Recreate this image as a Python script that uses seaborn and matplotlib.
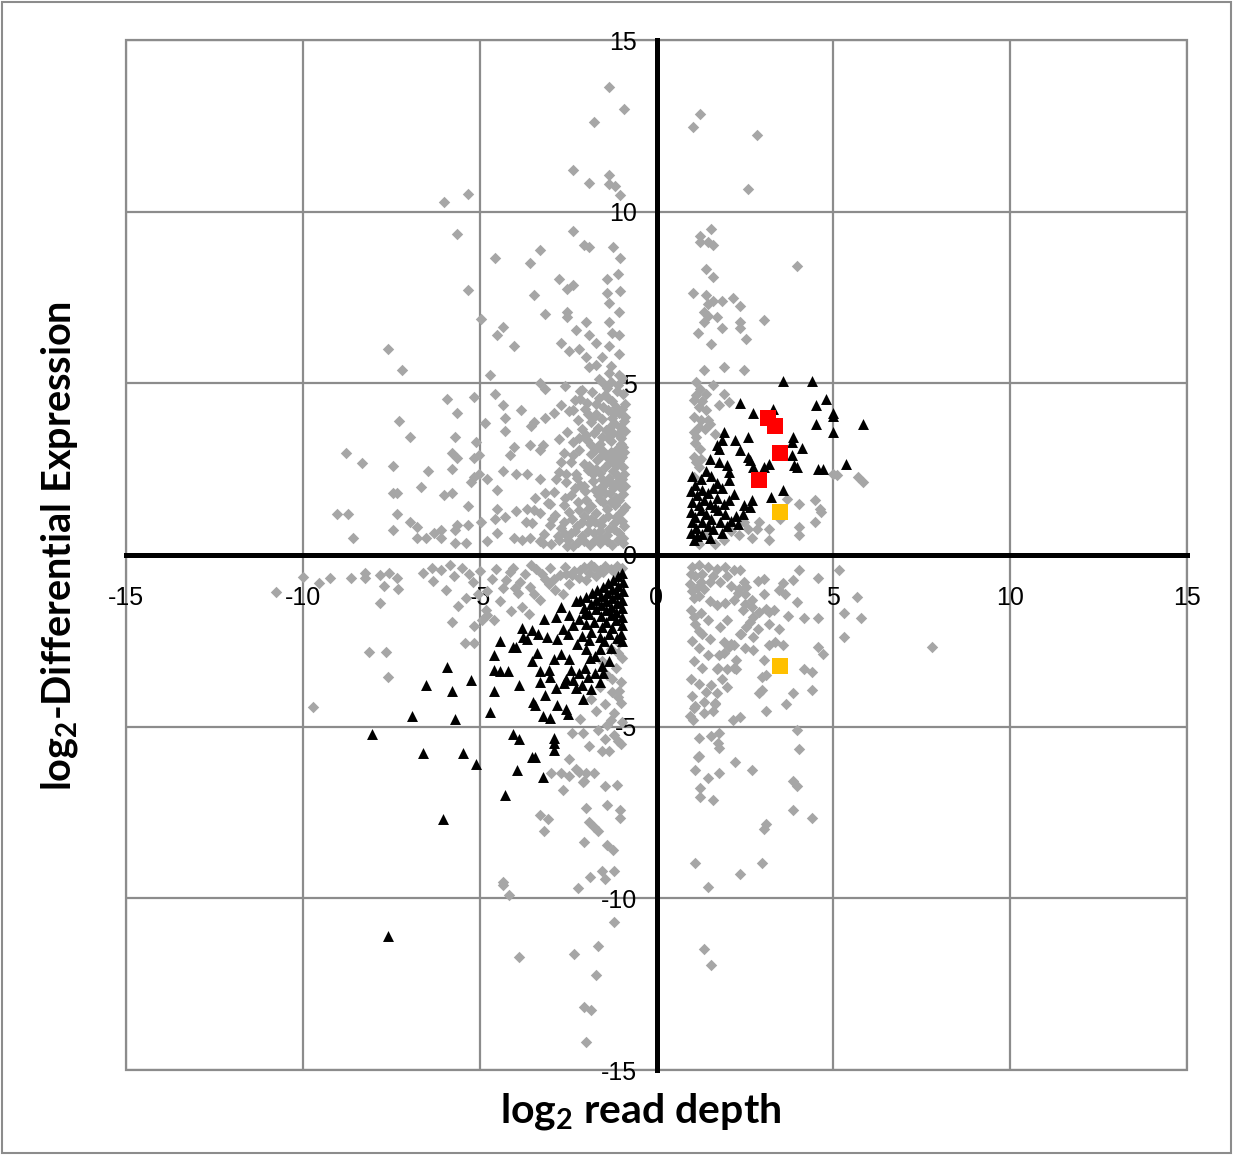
import numpy as np
import pandas as pd
import matplotlib
matplotlib.use("Agg")
import matplotlib.pyplot as plt
import seaborn as sns
from matplotlib.patches import Rectangle

## Points: (log2 read depth, log2 differential expression)
# grey diamonds, sparse part of upper-left quadrant
grey_ul_sparse = [
    (-1.33, 13.63), (-0.93, 13.0), (-1.78, 12.6), (-2.37, 11.2), (-1.92, 10.84), (-1.33, 11.07),
    (-1.33, 10.8), (-1.16, 10.75), (-1.02, 10.5), (-6.0, 10.28), (-5.32, 10.52), (-5.63, 9.35),
    (-2.37, 9.44), (-2.06, 9.03), (-1.92, 8.97), (-1.24, 8.97), (-1.02, 8.65), (-4.58, 8.65),
    (-3.28, 8.88), (-3.59, 8.5), (-2.77, 8.04), (-2.54, 7.75), (-2.37, 7.87), (-1.39, 8.04),
    (-1.1, 8.19), (-1.39, 7.63), (-1.02, 7.69), (-5.32, 7.72), (-3.45, 7.57), (-1.33, 7.34),
    (-3.14, 7.02), (-2.54, 7.08), (-2.54, 6.93), (-1.07, 7.08), (-4.95, 6.87),
    (-4.35, 6.64), (-4.5, 6.41), (-4.04, 6.09), (-2.29, 6.55), (-2.0, 6.79), (-1.92, 6.41),
    (-1.7, 6.18), (-1.33, 6.79), (-2.69, 6.18), (-2.46, 5.94), (-2.2, 6.0), (-2.0, 5.77),
    (-1.53, 5.77), (-1.07, 5.85), (-1.27, 6.47), (-1.07, 6.41), (-1.33, 6.09),
    (-7.58, 6.0), (-7.21, 5.39), (-4.72, 5.24), (-1.92, 5.48), (-1.7, 5.53), (-1.33, 5.3),
    (-1.07, 5.24), (-3.28, 5.0), (-3.14, 4.84), (-2.6, 4.92), (-2.15, 4.77), (-1.5, 5.0),
    (-5.91, 4.54), (-5.17, 4.6), (-4.58, 4.69), (-5.63, 4.14), (-4.35, 4.37), (-3.82, 4.22),
    (-4.27, 3.99), (-4.86, 3.84), (-7.29, 3.9), (-6.98, 3.44), (-8.79, 2.97), (-8.34, 2.68),
    (-7.44, 2.59), (-5.71, 3.44), (-5.09, 3.29), (-4.27, 3.61), (-3.56, 3.76), (-3.45, 3.87),
    (-3.14, 3.99), (-2.91, 4.14), (-2.69, 4.37), (-2.37, 4.22), (-4.04, 3.15), (-4.13, 2.91),
    (-3.59, 3.2), (-3.22, 3.2), (-3.28, 3.06), (-2.77, 3.38), (-5.77, 2.97), (-5.63, 2.82),
    (-5.77, 2.5), (-5.17, 2.82), (-5.03, 2.91), (-6.45, 2.45), (-6.67, 1.98), (-7.44, 1.8),
    (-7.35, 1.8), (-6.0, 1.75), (-5.77, 1.8), (-7.35, 1.19), (-9.02, 1.19), (-8.71, 1.19),
    (-8.57, 0.5), (-7.44, 0.73), (-6.98, 0.96), (-6.76, 0.82), (-6.76, 0.5), (-6.53, 0.5),
    (-6.3, 0.64), (-6.08, 0.73), (-6.08, 0.5), (-5.71, 0.73), (-5.63, 0.87), (-5.32, 0.87),
    (-5.71, 0.35), (-5.4, 0.35), (-5.32, 1.43), (-5.17, 2.28), (-5.25, 2.13), (-5.02, 2.36),
    (-4.8, 2.2), (-4.5, 1.89), (-4.35, 2.44), (-3.97, 2.36), (-3.67, 2.36),
    (-4.5, 1.35), (-4.57, 1.04), (-4.27, 1.12), (-3.97, 1.27), (-3.67, 1.35), (-3.44, 1.66),
    (-3.14, 1.81), (-4.95, 0.96), (-4.8, 0.42), (-4.5, 0.65), (-4.04, 0.5), (-3.59, 0.5),
    (-3.21, 0.34),
]

# grey diamonds, dense core next to the vertical axis
grey_ul_core = [
    (-1.62, 5.12), (-1.28, 5.05), (-0.98, 5.15),
    (-2.12, 4.82), (-1.83, 4.75), (-1.41, 4.86), (-1.12, 4.78), (-0.94, 4.70),
    (-2.31, 4.52), (-1.96, 4.44), (-1.63, 4.57), (-1.26, 4.48), (-0.9, 4.41),
    (-2.47, 4.18), (-2.02, 4.25), (-1.71, 4.12), (-1.37, 4.22), (-1.06, 4.15), (-0.88, 4.02),
    (-2.21, 3.94), (-1.86, 3.86), (-1.55, 3.95), (-1.19, 3.84), (-0.93, 3.9),
    (-2.52, 3.58), (-2.1, 3.66), (-1.77, 3.55), (-1.42, 3.63), (-1.09, 3.52), (-0.9, 3.6),
    (-2.36, 3.28), (-1.97, 3.34), (-1.61, 3.22), (-1.29, 3.31), (-1.01, 3.24),
    (-2.62, 2.98), (-2.19, 3.05), (-1.86, 2.94), (-1.5, 3.02), (-1.16, 2.91), (-0.91, 2.99),
    (-2.41, 2.72), (-2.04, 2.65), (-1.69, 2.76), (-1.34, 2.67), (-1.05, 2.74),
    (-2.77, 2.43), (-2.29, 2.36), (-1.94, 2.47), (-1.6, 2.38), (-1.24, 2.45), (-0.92, 2.35),
    (-2.56, 2.12), (-2.16, 2.05), (-1.8, 2.16), (-1.46, 2.07), (-1.11, 2.14), (-0.89, 2.02),
    (-2.91, 1.83), (-2.42, 1.76), (-2.01, 1.85), (-1.66, 1.74), (-1.31, 1.82), (-0.96, 1.77),
    (-3.08, 1.52), (-2.61, 1.46), (-2.21, 1.55), (-1.85, 1.44), (-1.52, 1.53), (-1.17, 1.47), (-0.9, 1.41),
    (-3.28, 1.22), (-2.86, 1.16), (-2.46, 1.25), (-2.06, 1.14), (-1.71, 1.23), (-1.36, 1.15), (-1.02, 1.21),
    (-3.52, 0.92), (-3.01, 0.86), (-2.62, 0.95), (-2.26, 0.84), (-1.91, 0.93), (-1.56, 0.86),
    (-1.21, 0.94), (-0.91, 0.85),
    (-3.19, 0.62), (-2.79, 0.56), (-2.41, 0.65), (-2.11, 0.55), (-1.76, 0.63), (-1.41, 0.57), (-1.06, 0.64),
    (-2.98, 0.33), (-2.52, 0.27), (-2.21, 0.38), (-1.89, 0.3), (-1.6, 0.36), (-1.26, 0.28), (-0.96, 0.34),
    (-1.45, 4.65), (-1.15, 4.32), (-1.8, 4.0), (-1.3, 3.75), (-1.0, 3.4), (-1.7, 3.1), (-1.4, 2.85),
    (-1.9, 2.6), (-1.15, 2.6), (-2.25, 2.25), (-1.35, 2.25), (-1.0, 1.95), (-2.3, 1.95), (-1.6, 1.95),
    (-1.15, 1.65), (-2.0, 1.6), (-1.4, 1.35), (-1.85, 1.05), (-1.2, 0.75), (-1.6, 0.5), (-2.5, 0.45),
    (-0.95, 0.5), (-1.05, 3.05), (-1.25, 4.0), (-1.55, 3.45), (-2.0, 3.5), (-2.7, 2.7), (-2.85, 2.2),
    (-3.3, 2.2), (-3.0, 1.5), (-3.45, 1.3), (-3.7, 0.95), (-2.7, 0.8), (-3.3, 0.4), (-3.8, 0.45),
]

# more grey diamonds filling the solid part of that core
grey_ul_fill = [
    (-1.08, 4.95), (-1.38, 4.58), (-0.97, 4.25), (-1.2, 4.1), (-1.5, 4.3), (-1.02, 3.72),
    (-1.24, 3.55), (-1.38, 3.4), (-0.94, 3.15), (-1.12, 3.1), (-1.3, 3.0), (-1.55, 2.9),
    (-0.98, 2.85), (-1.2, 2.8), (-1.45, 2.55), (-0.95, 2.55), (-1.72, 2.5), (-1.1, 2.3),
    (-1.3, 2.1), (-1.55, 2.2), (-1.8, 2.35), (-0.97, 2.2), (-1.22, 1.95), (-1.45, 1.8),
    (-1.75, 1.9), (-2.05, 2.0), (-1.05, 1.6), (-1.28, 1.55), (-1.6, 1.6), (-1.95, 1.35),
    (-2.2, 1.3), (-0.95, 1.3), (-1.15, 1.1), (-1.5, 1.05), (-1.75, 0.95), (-2.1, 0.95),
    (-2.4, 1.05), (-0.98, 1.0), (-1.35, 0.75), (-1.6, 0.7), (-1.95, 0.7), (-2.3, 0.7),
    (-2.6, 0.6), (-1.1, 0.45), (-1.4, 0.42), (-1.75, 0.45), (-2.05, 0.4), (-2.35, 0.25),
    (-2.75, 0.45), (-2.95, 1.05), (-2.6, 1.65), (-2.55, 2.35), (-2.35, 2.9), (-1.85, 3.2),
    (-2.2, 3.4), (-1.65, 3.7), (-1.95, 4.1), (-1.7, 4.4), (-2.15, 4.55), (-1.3, 5.5),
]

# grey diamonds, band just below the horizontal axis (left side)
grey_ll_band = [
    (-6.61, -0.53), (-6.32, -0.75), (-6.1, -0.45), (-5.95, -1.02), (-5.72, -0.62), (-5.5, -0.38),
    (-5.38, -1.25), (-5.2, -0.78), (-4.98, -0.48), (-4.78, -1.05), (-4.55, -0.42), (-4.42, -1.35),
    (-4.25, -0.72), (-4.05, -0.38), (-3.92, -1.12), (-3.72, -0.56), (-3.58, -0.92), (-3.42, -0.41),
    (-3.3, -1.3), (-3.15, -0.7), (-3.0, -0.39), (-2.88, -1.02), (-2.74, -0.57), (-2.6, -0.36),
    (-2.48, -0.84), (-2.33, -0.46), (-2.2, -0.66), (-2.06, -0.36), (-1.91, -0.52), (-1.76, -0.34),
    (-1.6, -0.44), (-1.45, -0.31), (-1.3, -0.4), (-1.12, -0.33), (-0.97, -0.38),
    (-4.82, -1.6), (-4.6, -1.88), (-4.12, -1.62), (-3.8, -1.5), (-3.6, -1.72), (-5.6, -1.48),
    (-6.35, -0.38), (-5.85, -0.3), (-5.05, -1.15), (-4.35, -0.95), (-3.85, -0.8), (-3.45, -1.15),
    (-3.05, -0.85), (-2.65, -1.15), (-2.4, -0.58), (-1.98, -0.72), (-1.7, -0.6),
    (-5.3, -0.55), (-4.65, -0.7), (-4.15, -0.5), (-3.55, -0.3), (-3.25, -0.55), (-2.9, -0.7),
    (-2.55, -0.55), (-2.15, -0.45), (-1.85, -0.3), (-1.5, -0.5), (-1.2, -0.5), (-4.0, -0.95),
    (-10.0, -0.63), (-10.77, -1.08), (-9.54, -0.82), (-9.24, -0.67), (-8.64, -0.67), (-8.24, -0.51),
    (-8.24, -0.67), (-7.81, -0.59), (-7.57, -0.51), (-7.33, -0.67), (-7.7, -0.91), (-7.31, -0.98),
    (-7.81, -1.4), (-5.77, -1.96), (-5.16, -2.08), (-5.41, -2.57), (-5.16, -2.57), (-4.93, -1.9),
    (-4.78, -1.75), (-8.12, -2.82), (-7.65, -2.82), (-7.59, -3.55), (-9.71, -4.42),
]

# grey diamonds, column and tail in the lower-left quadrant
grey_ll_column = [
    (-1.05, -2.55), (-1.3, -2.75), (-0.98, -3.0), (-1.55, -3.1), (-1.15, -3.3), (-1.4, -3.5),
    (-1.0, -3.7), (-1.6, -3.85), (-1.25, -4.0), (-1.0, -4.3), (-1.45, -4.35), (-1.2, -4.6),
    (-1.7, -4.55), (-0.98, -4.85), (-1.4, -4.95), (-1.2, -5.25), (-1.65, -5.1), (-1.0, -5.5),
    (-1.85, -4.2), (-1.1, -2.85), (-1.05, -3.95), (-1.25, -3.6), (-1.1, -4.15), (-1.3, -4.8),
    (-2.15, -4.79), (-2.38, -5.18), (-2.07, -5.18), (-1.92, -5.56), (-1.53, -5.71), (-1.33, -5.71),
    (-1.47, -5.36), (-1.1, -5.42), (-2.46, -5.94),
    (-2.98, -6.34), (-2.71, -6.35), (-2.46, -6.44), (-2.29, -6.23), (-2.2, -6.32), (-2.0, -6.35),
    (-1.78, -6.35), (-2.06, -6.58), (-2.63, -6.85), (-1.47, -6.74), (-1.12, -6.71), (-2.07, -6.61),
    (-2.0, -7.37), (-1.39, -7.28), (-1.02, -7.43), (-1.02, -7.66), (-3.28, -7.57), (-3.08, -7.69),
    (-3.19, -8.04), (-1.92, -7.78), (-1.78, -7.92), (-1.64, -8.04), (-2.06, -8.36), (-1.39, -8.45),
    (-1.24, -8.59),
    (-4.35, -9.53), (-4.35, -9.61), (-4.18, -9.9), (-2.23, -9.7), (-1.87, -9.38), (-1.53, -9.2),
    (-1.47, -9.44), (-1.19, -9.2), (-1.19, -10.69), (-1.64, -11.39), (-2.32, -11.62), (-3.9, -11.71),
    (-1.7, -12.23), (-2.06, -13.17), (-1.84, -13.25), (-2.0, -14.19),
]

# grey diamonds, upper-right quadrant
grey_ur = [
    (1.24, 12.85), (1.02, 12.47), (2.83, 12.23), (2.6, 10.66), (1.55, 9.5), (1.22, 9.29),
    (1.22, 9.12), (1.47, 9.12), (1.61, 9.03), (3.96, 8.42), (1.39, 8.33), (1.61, 8.1),
    (1.02, 7.63), (1.39, 7.57), (1.47, 7.31), (1.61, 7.4), (1.84, 7.4), (2.15, 7.49), (2.37, 7.25),
    (1.33, 7.08), (1.33, 6.79), (1.47, 6.96), (1.70, 6.93), (2.37, 6.79), (2.37, 6.61), (3.05, 6.84),
    (1.84, 6.61), (1.16, 6.47), (2.52, 6.29), (1.55, 6.15),
    (1.33, 5.39), (1.92, 5.48), (2.46, 5.39),
    (1.13, 5.04), (1.22, 4.84), (1.13, 4.66), (1.07, 4.51), (1.41, 4.69), (1.61, 4.95), (1.92, 4.69),
    (1.78, 4.37), (2.06, 4.46), (1.41, 4.22), (1.07, 4.02), (1.27, 3.93), (1.47, 3.93), (1.19, 3.73),
    (1.36, 3.67), (1.5, 3.82), (1.07, 3.58), (1.13, 3.44), (1.64, 3.52), (1.22, 3.09), (1.07, 2.85),
    (1.13, 2.71), (1.27, 2.8), (1.05, 2.27), (1.19, 2.56), (1.1, 3.25), (1.2, 4.3), (1.3, 4.5),
    (2.46, 0.96), (2.32, 0.58), (2.6, 0.76), (2.83, 0.76), (2.91, 0.96), (3.19, 0.76), (3.19, 0.44),
    (1.92, 0.44), (1.64, 0.32), (1.19, 0.32), (3.68, 1.63), (4.04, 1.49), (4.47, 1.6), (4.61, 1.34),
    (4.66, 1.25), (4.47, 0.96), (4.04, 0.82), (4.04, 0.58), (5.0, 2.36), (5.09, 2.33), (5.71, 2.27),
    (5.85, 2.13), (3.48, 1.05), (2.1, 0.7), (2.7, 0.5), (1.4, 0.6),
]

# grey diamonds, lower-right quadrant
grey_lr = [
    (1.0, -0.35), (1.2, -0.3), (1.45, -0.35), (1.7, -0.4), (1.95, -0.35), (2.2, -0.45), (2.0, -0.6),
    (1.1, -0.6), (1.3, -0.55), (1.6, -0.6), (0.95, -0.85), (1.15, -0.95), (1.35, -1.0), (1.8, -0.8),
    (2.1, -0.9), (2.3, -1.1), (1.05, -1.25), (1.5, -1.35), (1.7, -1.45), (1.95, -1.4), (2.2, -1.3),
    (2.5, -1.15), (0.97, -1.6), (1.25, -1.7), (1.45, -1.9), (1.1, -2.0), (1.3, -2.3), (1.0, -2.5),
    (1.5, -2.45), (1.2, -2.7), (1.45, -2.9), (1.05, -3.1), (1.3, -3.3), (0.98, -3.6), (1.2, -3.75),
    (1.55, -3.8), (1.0, -4.1), (1.4, -4.0), (1.1, -4.4), (1.65, -4.3), (0.95, -4.7), (1.35, -4.6),
    (1.8, -2.1), (2.0, -1.9), (2.45, -1.6), (2.7, -1.5), (2.4, -2.3), (2.1, -2.6), (1.9, -2.85),
    (1.75, -3.3), (2.2, -3.3), (2.5, -2.7), (1.85, -3.6),
    (0.98, -0.55), (1.25, -0.8), (1.5, -0.8), (1.0, -1.05), (1.2, -1.2), (1.05, -1.8), (1.2, -2.2),
    (2.35, -0.44), (4.04, -0.44), (4.58, -0.67), (3.87, -0.73), (3.59, -0.82), (5.17, -0.44),
    (2.86, -0.76), (3.05, -0.7), (2.46, -0.79), (2.32, -0.99), (2.54, -0.93), (3.45, -1.02),
    (3.62, -1.14), (5.68, -1.22), (3.96, -1.37), (3.03, -1.14), (2.69, -1.31), (2.49, -1.43),
    (5.31, -1.69), (5.77, -1.84), (5.31, -2.39), (3.73, -1.78), (4.18, -1.84), (4.58, -1.84),
    (3.19, -1.66), (3.31, -1.6), (3.11, -1.57), (2.91, -1.66), (2.74, -1.81), (2.63, -1.95),
    (3.19, -2.01), (3.45, -2.16), (2.86, -2.16), (2.74, -2.39), (2.54, -2.1), (2.35, -2.3),
    (3.19, -2.62), (3.34, -2.53), (3.59, -2.62), (4.58, -2.68), (4.72, -2.88), (2.74, -2.77),
    (2.2, -2.62), (1.92, -2.53), (2.04, -2.68), (3.05, -3.06), (4.16, -3.32), (4.41, -3.41),
    (2.97, -3.55), (3.11, -3.49), (2.26, -3.06), (2.0, -3.32), (2.26, -3.32), (1.7, -3.32),
    (1.78, -2.91), (1.98, -3.84), (1.7, -4.02), (2.91, -4.02), (2.97, -3.93), (3.87, -4.02),
    (4.41, -3.93), (3.65, -4.34), (3.11, -4.54), (2.17, -4.8), (2.37, -4.72), (1.33, -4.28),
    (1.64, -4.34), (1.07, -4.46), (1.61, -4.54), (1.02, -4.8), (3.96, -5.1), (4.04, -5.65),
    (1.19, -5.33), (1.55, -5.27), (1.78, -5.18), (1.75, -5.47), (1.19, -5.85),
    (1.16, -5.88), (1.1, -6.26), (1.47, -6.5), (1.78, -6.35), (2.23, -6.03), (2.69, -6.26),
    (1.24, -6.79), (1.24, -7.05), (1.61, -7.14), (3.87, -6.58), (3.96, -6.73), (3.87, -7.43),
    (4.41, -7.66), (3.11, -7.84), (3.03, -7.98), (1.1, -8.97), (2.37, -9.29), (2.97, -8.97),
    (1.47, -9.67), (1.33, -11.48), (1.55, -11.94), (1.78, -5.62), (7.8, -2.68),
]

# black triangles, upper-right group
tri_up = [
    (3.59, 5.07), (4.41, 5.07), (2.37, 4.43), (2.74, 4.14), (3.28, 4.25), (4.5, 4.37), (4.78, 4.54),
    (5.0, 4.14), (5.0, 4.05), (4.5, 3.82), (5.0, 3.58), (5.85, 3.82),
    (1.92, 3.58), (1.84, 3.35), (2.23, 3.35), (2.6, 3.44), (1.7, 3.2), (1.78, 3.09), (2.37, 3.06),
    (2.6, 2.85), (2.63, 2.77), (3.87, 3.44), (3.82, 3.29), (4.1, 3.12), (3.82, 2.91), (3.9, 2.62),
    (3.96, 2.56), (3.19, 2.65), (3.03, 2.56), (2.74, 2.56), (1.5, 2.8), (1.78, 2.71), (1.98, 2.62),
    (2.04, 2.42), (2.06, 2.18), (2.2, 1.78), (2.46, 1.46), (2.69, 1.6), (2.63, 1.4), (3.59, 1.89),
    (3.25, 1.69), (4.58, 2.5), (4.72, 2.5), (5.37, 2.65),
    (1.0, 2.3), (1.1, 2.05), (1.25, 2.2), (1.4, 2.45), (1.55, 2.3), (1.7, 2.1), (0.98, 1.85),
    (1.15, 1.75), (1.3, 1.9), (1.45, 1.8), (1.6, 1.95), (1.85, 1.95), (1.0, 1.55), (1.2, 1.45),
    (1.35, 1.6), (1.5, 1.5), (1.7, 1.65), (1.9, 1.5), (2.05, 1.6), (0.97, 1.25), (1.1, 1.1),
    (1.25, 1.3), (1.4, 1.2), (1.55, 1.05), (1.75, 1.3), (1.95, 1.2), (2.1, 1.0), (1.0, 0.95),
    (1.12, 0.8), (1.3, 0.95), (1.45, 0.85), (1.6, 0.75), (1.8, 0.95), (2.0, 0.85), (2.25, 1.15),
    (0.98, 0.65), (1.15, 0.55), (1.3, 0.62), (1.5, 0.5), (1.05, 0.45), (1.65, 1.4), (1.85, 0.65),
    (2.3, 0.9), (2.45, 1.2),
]

# black triangles, lower-left group
tri_down = [
    (-8.05, -5.22), (-6.61, -5.77), (-5.47, -5.77), (-5.11, -6.09), (-6.9, -4.68), (-5.71, -4.79),
    (-6.53, -3.8), (-5.77, -3.96), (-5.93, -3.27), (-5.24, -3.64), (-4.71, -4.57), (-4.59, -3.96),
    (-4.59, -2.92), (-4.59, -3.34), (-4.42, -3.38), (-4.2, -3.38), (-4.42, -2.51), (-4.06, -2.67),
    (-3.98, -2.67), (-3.88, -3.8), (-4.06, -5.22), (-3.88, -5.37), (-3.95, -6.26), (-3.53, -5.87),
    (-3.43, -5.87), (-3.22, -6.48), (-2.9, -5.32), (-2.9, -5.47), (-2.9, -5.67), (-4.27, -6.99),
    (-6.05, -7.69), (-7.58, -11.1),
    (-3.5, -4.28), (-3.43, -4.38), (-3.22, -4.68), (-3.0, -4.75), (-2.8, -4.38), (-2.56, -4.48),
    (-2.51, -4.63), (-2.08, -4.18), (-3.14, -4.08), (-2.85, -3.88), (-2.61, -3.73), (-2.37, -3.63),
    (-2.27, -3.88), (-3.81, -2.14), (-3.53, -2.19), (-3.34, -2.29), (-3.77, -2.39), (-3.67, -2.44),
    (-3.19, -1.85), (-2.85, -1.8), (-2.71, -1.5), (-2.47, -1.75), (-2.27, -1.35), (-2.03, -1.7),
    (-3.53, -3.09), (-3.38, -2.84), (-3.29, -3.38), (-3.05, -3.34), (-2.9, -3.04), (-2.71, -2.89),
    (-2.47, -3.04), (-2.42, -3.34), (-2.18, -3.43), (-2.03, -3.29), (-1.89, -2.99), (-1.74, -3.43),
    (-1.55, -3.24), (-3.1, -2.4), (-2.8, -2.45), (-2.5, -2.3), (-2.25, -2.6), (-2.0, -2.75),
    (-2.65, -2.15), (-2.35, -2.05), (-1.6, -2.75), (-1.3, -2.7), (-1.75, -2.95), (-2.55, -3.6),
    (-3.0, -3.55), (-3.3, -3.7), (-2.1, -3.8), (-1.95, -3.55), (-1.5, -3.45), (-1.35, -3.1),
    (-1.85, -3.9), (-1.6, -3.7),
    (-0.97, -0.52), (-1.08, -0.62), (-0.95, -0.78), (-1.22, -0.72), (-1.1, -0.9), (-0.96, -1.05),
    (-1.38, -0.83), (-1.25, -0.98), (-1.12, -1.15), (-0.97, -1.3), (-1.52, -0.93), (-1.4, -1.1),
    (-1.27, -1.25), (-1.13, -1.4), (-0.98, -1.55), (-1.68, -1.02), (-1.56, -1.2), (-1.42, -1.35),
    (-1.28, -1.5), (-1.14, -1.65), (-0.97, -1.8), (-1.83, -1.12), (-1.72, -1.3), (-1.58, -1.45),
    (-1.44, -1.6), (-1.3, -1.75), (-1.15, -1.9), (-0.98, -2.05), (-1.98, -1.22), (-1.86, -1.42),
    (-1.72, -1.58), (-1.58, -1.78), (-1.42, -1.95), (-1.25, -2.12), (-1.0, -2.3), (-2.15, -1.32),
    (-2.05, -1.55), (-1.9, -1.72), (-1.78, -1.95), (-1.55, -2.1), (-1.35, -2.3), (-1.12, -2.42),
    (-2.0, -2.0), (-1.85, -2.25), (-1.6, -2.4), (-2.1, -2.35), (-1.9, -2.48), (-1.48, -2.5),
    (-0.97, -2.5), (-2.2, -1.85),
]

red_squares = [(3.14, 3.99), (3.36, 3.76), (3.5, 2.97), (2.91, 2.18)]
orange_squares = [(3.5, 1.25), (3.5, -3.23)]

ticks = [-15, -10, -5, 0, 5, 10, 15]


def frame(points):
    return pd.DataFrame(points, columns=["depth", "diff"])


grey = frame(grey_ul_sparse + grey_ul_core + grey_ul_fill + grey_ll_band + grey_ll_column
             + grey_ur + grey_lr)
tri = frame(tri_up + tri_down)
red = frame(red_squares)
orange = frame(orange_squares)

sns.set_theme(style="white")
plt.rcParams["font.family"] = ["Liberation Sans", "DejaVu Sans"]
plt.rcParams["axes.unicode_minus"] = False
plt.rcParams["mathtext.fontset"] = "custom"
plt.rcParams["mathtext.rm"] = "Lato:bold"
plt.rcParams["mathtext.default"] = "rm"

fig = plt.figure(figsize=(12.33, 11.55), dpi=100)
ax = fig.add_axes([126 / 1233, 1 - 1070 / 1155, 1061 / 1233, 1030 / 1155])

sns.scatterplot(data=grey, x="depth", y="diff", marker="D", color="#a6a6a6", s=34, linewidth=0, ax=ax)
sns.scatterplot(data=tri, x="depth", y="diff", marker="^", color="black", s=62, linewidth=0, ax=ax)
sns.scatterplot(data=red, x="depth", y="diff", marker="s", color="#ff0000", s=135, linewidth=0, ax=ax)
sns.scatterplot(data=orange, x="depth", y="diff", marker="s", color="#ffc000", s=135, linewidth=0, ax=ax)

ax.set_xlim(-15, 15)
ax.set_ylim(-15, 15)
ax.set_xticks(ticks)
ax.set_yticks(ticks)
ax.set_xlabel("")
ax.set_ylabel("")
ax.grid(True, color="#8c8c8c", linewidth=1.6)
ax.set_axisbelow(True)

# Excel-style axes crossing at the origin
for side in ["left", "bottom"]:
    ax.spines[side].set_position(("data", 0))
    ax.spines[side].set_color("black")
    ax.spines[side].set_linewidth(3.6)
for side in ["top", "right"]:
    ax.spines[side].set_visible(False)
ax.add_patch(Rectangle((0, 0), 1, 1, transform=ax.transAxes, fill=False,
                       edgecolor="#8c8c8c", linewidth=1.6, clip_on=False, zorder=0.5))

ax.tick_params(axis="both", length=0, labelsize=18, colors="black")
ax.tick_params(axis="x", pad=22)
ax.tick_params(axis="y", pad=14)

fig.text(60 / 1233, 1 - 546 / 1155, "log$_2$-Differential Expression", rotation=90,
         ha="center", va="center", fontsize=28.5, fontweight="bold", family="Lato", color="black")
fig.text(641 / 1233, 1 - 1112 / 1155, "log$_2$ read depth",
         ha="center", va="center", fontsize=29.5, fontweight="bold", family="Lato", color="black")

fig.patches.append(Rectangle((0.002, 0.002), 0.996, 0.996, transform=fig.transFigure,
                             fill=False, edgecolor="#8c8c8c", linewidth=1.5))

fig.savefig("out.png", dpi=100)
